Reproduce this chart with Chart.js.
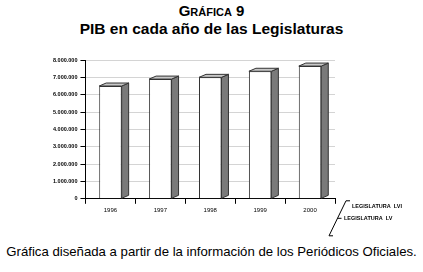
<!DOCTYPE html>
<html>
<head>
<meta charset="utf-8">
<script src="https://cdn.jsdelivr.net/npm/chart.js@4"></script>
<style>
  body { margin: 0; width: 423px; height: 272px; background: #fff; position: relative; overflow: hidden; font-family: "Liberation Sans", Arial, sans-serif; }
  #t1 { position: absolute; top: 2px; left: 0; width: 423px; text-align: center; font-weight: bold; font-size: 15px; font-variant: small-caps; }
  #t2 { position: absolute; top: 20px; left: 0; width: 423px; text-align: center; font-weight: bold; font-size: 15.5px; }
  #wrap { position: absolute; top: 38px; left: 0; width: 423px; height: 200px; }
  #foot { position: absolute; top: 244px; left: 0; width: 423px; text-align: center; font-size: 13.2px; }
</style>
</head>
<body>
<div id="t1">Gráfica 9</div>
<div id="t2">PIB en cada año de las Legislaturas</div>
<div id="wrap"><canvas id="pib"></canvas></div>
<div id="foot">Gráfica diseñada a partir de la información de los Periódicos Oficiales.</div>
<script>
const years = ['1996', '1997', '1998', '1999', '2000'];
const legislaturaLV = [6500000, 6900000, 7000000, null, null];
const legislaturaLVI = [null, null, null, 7350000, 7650000];
const seriesNames = ['LEGISLATURA  LV', 'LEGISLATURA  LVI'];

// fake 3d faces on each bar + depth labels
const bars3d = {
  id: 'bars3d',
  afterDatasetsDraw(chart) {
    const ctx = chart.ctx;
    const dx = 7, dy = 3;
    ctx.save();
    ctx.lineWidth = 1;
    ctx.strokeStyle = '#333';
    chart.data.datasets.forEach((ds, i) => {
      chart.getDatasetMeta(i).data.forEach((bar, j) => {
        if (ds.data[j] == null) return;
        const { x, y, base, width } = bar.getProps(['x', 'y', 'base', 'width'], true);
        const l = x - width / 2, r = x + width / 2;
        ctx.fillStyle = '#7a7a7a';
        ctx.beginPath();
        ctx.moveTo(r, y); ctx.lineTo(r + dx, y - dy); ctx.lineTo(r + dx, base - dy); ctx.lineTo(r, base);
        ctx.closePath(); ctx.fill(); ctx.stroke();
        ctx.fillStyle = '#c8c8c8';
        ctx.beginPath();
        ctx.moveTo(l, y); ctx.lineTo(r, y); ctx.lineTo(r + dx, y - dy); ctx.lineTo(l + dx, y - dy);
        ctx.closePath(); ctx.fill(); ctx.stroke();
      });
    });
    // depth axis with series names
    const a = chart.chartArea;
    const x0 = a.right - 6, y0 = a.bottom + 37;
    ctx.strokeStyle = '#000';
    ctx.beginPath();
    ctx.moveTo(x0, y0); ctx.lineTo(x0 + 17, y0 - 35);
    ctx.moveTo(x0, y0); ctx.lineTo(x0 + 4, y0);
    ctx.moveTo(x0 + 8.5, y0 - 17.5); ctx.lineTo(x0 + 12.5, y0 - 17.5);
    ctx.moveTo(x0 + 17, y0 - 35); ctx.lineTo(x0 + 21, y0 - 35);
    ctx.stroke();
    ctx.fillStyle = '#000';
    ctx.font = 'bold 5.5px "Liberation Sans", Arial, sans-serif';
    ctx.textBaseline = 'middle';
    ctx.fillText(seriesNames[1], x0 + 23, y0 - 29);
    ctx.fillText(seriesNames[0], x0 + 15, y0 - 17);
    ctx.restore();
  }
};

new Chart(document.getElementById('pib'), {
  type: 'bar',
  data: {
    labels: years,
    datasets: [
      { label: seriesNames[0], data: legislaturaLV, backgroundColor: '#fff', borderColor: '#333', borderWidth: 1 },
      { label: seriesNames[1], data: legislaturaLVI, backgroundColor: '#fff', borderColor: '#333', borderWidth: 1 }
    ]
  },
  options: {
    responsive: true,
    maintainAspectRatio: false,
    animation: false,
    skipNull: true,
    barPercentage: 0.9,
    categoryPercentage: 0.5,
    layout: { padding: { top: 22, right: 88, left: 50, bottom: 21 } },
    plugins: { legend: { display: false }, tooltip: { enabled: false } },
    scales: {
      x: {
        grid: { offset: true, drawOnChartArea: false, tickLength: 5, tickColor: '#000' },
        border: { color: '#000' },
        ticks: { color: '#000', font: { size: 6, family: '"Liberation Sans", Arial, sans-serif' } }
      },
      y: {
        min: 0, max: 8000000,
        grid: { color: '#d4d4d4', tickLength: 5, tickColor: '#000' },
        border: { color: '#000' },
        ticks: {
          stepSize: 1000000, color: '#000',
          font: { size: 5.5, weight: 'bold', family: '"Liberation Sans", Arial, sans-serif' },
          callback: v => v.toLocaleString('es-ES', { useGrouping: 'always' }).replace(/\s|,/g, '.')
        }
      }
    }
  },
  plugins: [bars3d]
});
</script>
</body>
</html>
